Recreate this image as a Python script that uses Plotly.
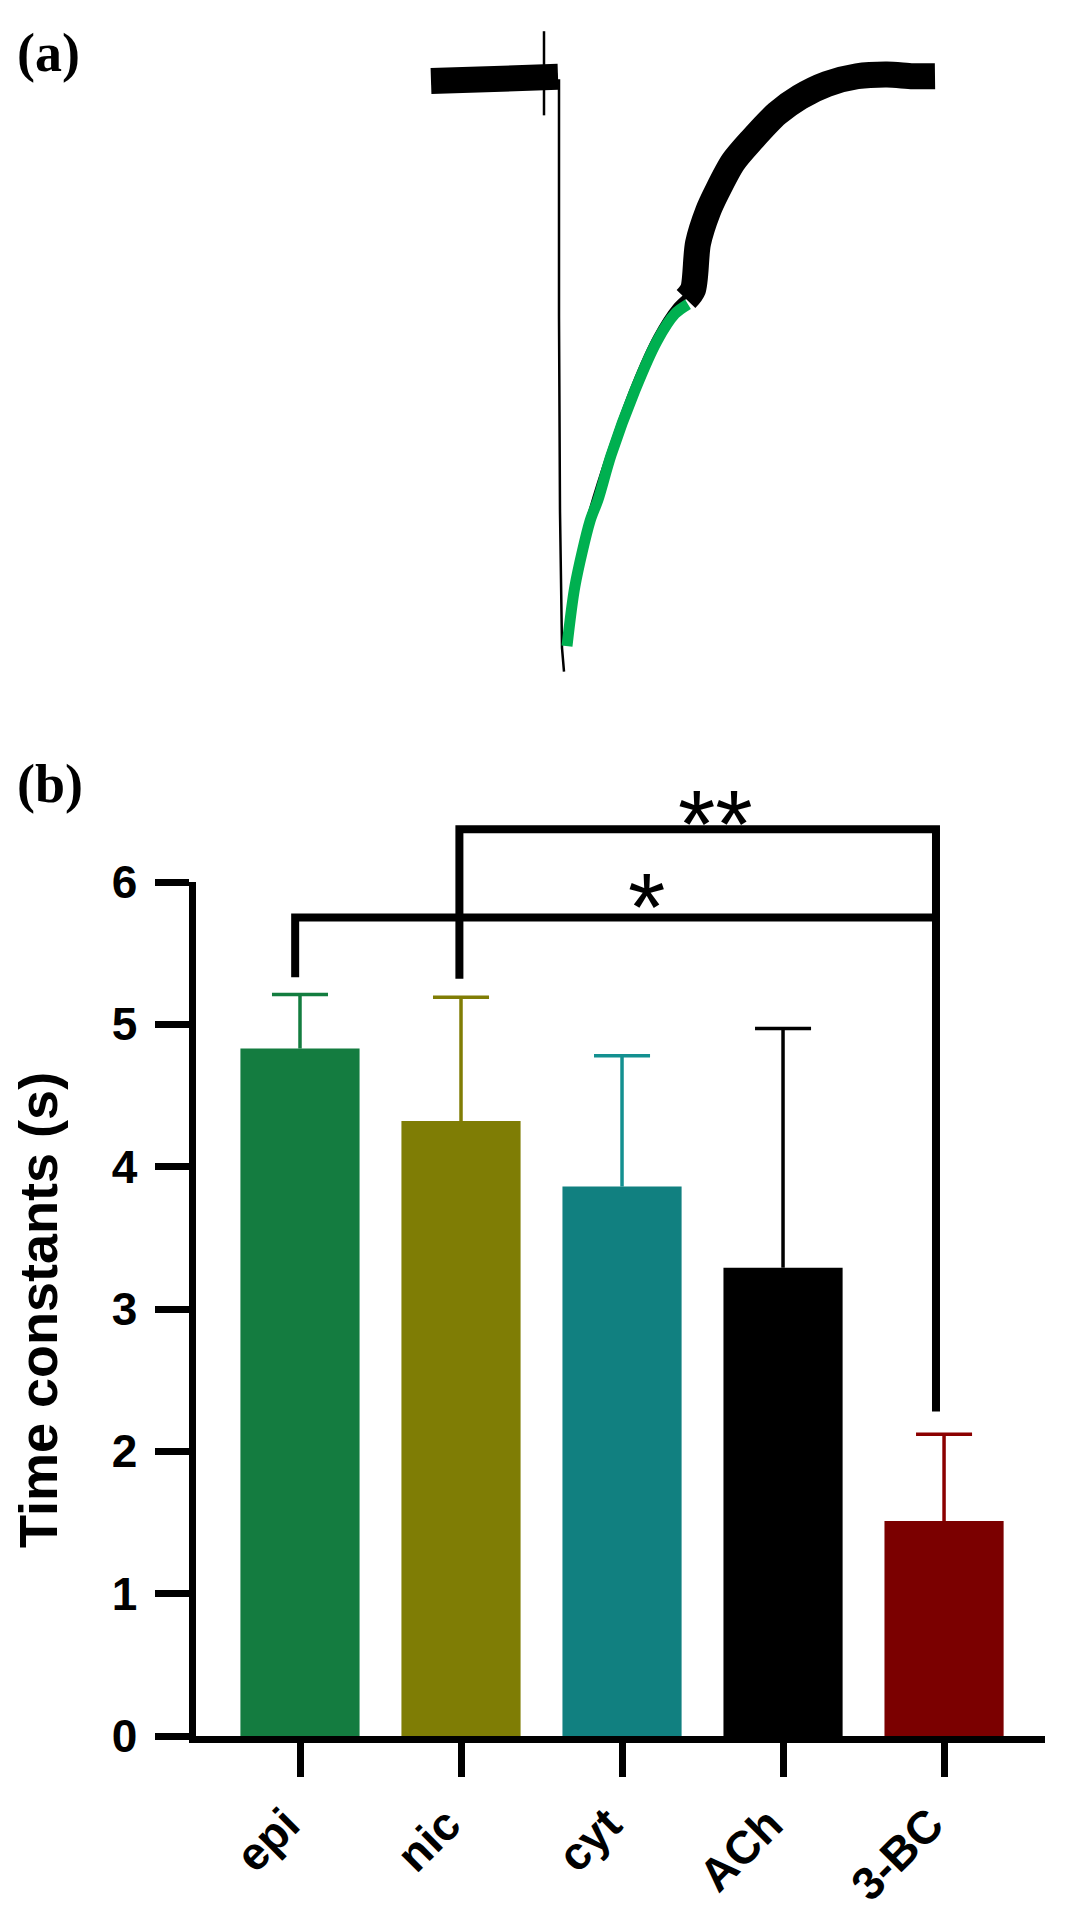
import plotly.graph_objects as go

# ---------------- data: panel (b) ----------------
categories = ["epi", "nic", "cyt", "ACh", "3-BC"]
means = [4.83, 4.32, 3.86, 3.29, 1.51]
sem = [0.38, 0.87, 0.92, 1.68, 0.61]
bar_colors = ["#147c40", "#7f7d05", "#118080", "#000000", "#7b0000"]
err_colors = ["#137d3f", "#807d05", "#139090", "#000000", "#8b0000"]
y_ticks = [0, 1, 2, 3, 4, 5, 6]
y_title = "Time constants (s)"

# significance brackets (x in category index, y in seconds)
brk1_x = [-0.03, -0.03, 3.95, 3.95]
brk1_y = [5.33, 5.75, 5.75, 2.28]
brk2_x = [0.99, 0.99, 3.95, 3.95]
brk2_y = [5.32, 6.37, 6.37, 5.75]
star1 = (2.15, 5.83, "*")
star2 = (2.58, 6.41, "**")

# ---------------- data: panel (a) trace (time s, normalized current) -------------
base_t = [0.0, 0.6, 1.2, 1.8, 2.3, 2.54]
base_i = [-0.003, -0.002, 0.002, 0.005, 0.005, 0.004]
spike_t = [2.26, 2.26]
spike_i = [0.081, -0.061]
drop_t = [2.56, 2.56, 2.58, 2.62, 2.66]
drop_i = [0.0, -0.40, -0.73, -0.96, -1.00]
under_t = [2.70, 2.86, 3.16, 3.58, 4.06, 4.50, 4.88, 5.14]
under_i = [-0.95, -0.85, -0.74, -0.627, -0.516, -0.434, -0.384, -0.363]
rec_t = [5.10, 5.24, 5.34, 5.54, 5.72, 6.04, 6.42, 6.92, 7.38, 7.92, 8.52, 9.12, 9.64, 10.08]
rec_i = [-0.371, -0.355, -0.277, -0.223, -0.190, -0.140, -0.102, -0.058, -0.030, -0.008, 0.005, 0.008, 0.005, 0.005]
fit_t = [2.72, 2.88, 3.18, 3.34, 3.60, 4.08, 4.52, 4.88, 5.14]
fit_i = [-0.957, -0.855, -0.746, -0.710, -0.635, -0.525, -0.442, -0.396, -0.380]

W, H = 1067, 1920
OFF = 8  # page margin compensation
FONT = "Liberation Sans"

fig = go.Figure()

# ---- panel (a) ----
def tr(t, i, w, color="black", shape="linear"):
    fig.add_trace(go.Scatter(x=t, y=i, mode="lines", xaxis="x2", yaxis="y2",
                             line=dict(color=color, width=w, shape=shape, smoothing=0.8),
                             hoverinfo="skip", showlegend=False))

tr(base_t, base_i, 26)
tr(spike_t, spike_i, 2.5)
tr(drop_t, drop_i, 2.5)
tr(under_t, under_i, 5, shape="spline")
tr(rec_t, rec_i, 26, shape="spline")
tr(fit_t, fit_i, 11, "#00b050", shape="spline")

# ---- panel (b) bars ----
xs = list(range(len(categories)))
fig.add_trace(go.Bar(
    x=xs, y=means, width=0.74,
    marker=dict(color=bar_colors, line=dict(width=0)),
    xaxis="x", yaxis="y", showlegend=False, hoverinfo="skip"))

# upward-only error bars (stem + cap) drawn through the axes
cap_half = 0.174
for k in xs:
    top = means[k] + sem[k]
    fig.add_trace(go.Scatter(
        x=[xs[k], xs[k], None, xs[k] - cap_half, xs[k] + cap_half],
        y=[means[k], top, None, top, top],
        mode="lines", line=dict(color=err_colors[k], width=3.5),
        xaxis="x", yaxis="y", showlegend=False, hoverinfo="skip"))

for bx, by in [(brk1_x, brk1_y), (brk2_x, brk2_y)]:
    fig.add_trace(go.Scatter(x=bx, y=by, mode="lines", xaxis="x", yaxis="y3",
                             line=dict(color="black", width=8), hoverinfo="skip",
                             showlegend=False))

ann = []
for sx, sy, st in [star1, star2]:
    ann.append(dict(x=sx, y=sy, xref="x", yref="y3", text=st, showarrow=False,
                    font=dict(family=FONT, size=96, color="black"),
                    xanchor="center", yanchor="middle"))
ann.append(dict(x=(48 - OFF) / W, y=1 - (53 - OFF) / H, xref="paper", yref="paper",
                text="<b>(a)</b>", showarrow=False,
                font=dict(family="Liberation Serif", size=54, color="black"),
                xanchor="center", yanchor="middle"))
ann.append(dict(x=(50 - OFF) / W, y=1 - (784 - OFF) / H, xref="paper", yref="paper",
                text="<b>(b)</b>", showarrow=False,
                font=dict(family="Liberation Serif", size=54, color="black"),
                xanchor="center", yanchor="middle"))
ann.append(dict(x=(38 - OFF) / W, y=1 - (1310 - OFF) / H, xref="paper", yref="paper",
                text=y_title, textangle=-90, showarrow=False,
                font=dict(family=FONT, size=54, color="black", weight="bold"),
                xanchor="center", yanchor="middle"))

plot_left, plot_right = 195.5 - OFF, 1045 - OFF
plot_top, plot_bottom = 882 - OFF, 1736 - OFF
px_per_unit = (plot_bottom - plot_top) / 6.0
y3_top_px = 740 - OFF
y3_max = (plot_bottom - y3_top_px) / px_per_unit

fig.update_layout(
    width=W, height=H,
    margin=dict(l=0, r=0, t=0, b=0, autoexpand=False),
    paper_bgcolor="white", plot_bgcolor="rgba(0,0,0,0)",
    annotations=ann,
    xaxis=dict(domain=[plot_left / W, plot_right / W], range=[-0.649, 4.627],
               tickmode="array", tickvals=xs, ticktext=categories,
               showline=True, linewidth=7, linecolor="black",
               ticks="outside", ticklen=34, tickwidth=7, tickcolor="black",
               tickangle=-45, showgrid=False, zeroline=False, automargin=False,
               ticklabelstandoff=2, ticklabelshift=-14,
               tickfont=dict(family=FONT, size=46, color="black", weight="bold"),
               anchor="y", fixedrange=True),
    yaxis=dict(domain=[1 - plot_bottom / H, 1 - plot_top / H], range=[0, 6],
               tickmode="array", tickvals=y_ticks,
               showline=True, linewidth=7, linecolor="black",
               ticks="outside", ticklen=34, tickwidth=7, tickcolor="black",
               showgrid=False, zeroline=False, automargin=False,
               ticklabelstandoff=8,
               tickfont=dict(family=FONT, size=46, color="black", weight="bold"),
               anchor="x", fixedrange=True),
    yaxis3=dict(domain=[1 - plot_bottom / H, 1 - y3_top_px / H], range=[0, y3_max],
                visible=False, anchor="x", fixedrange=True, automargin=False),
    xaxis2=dict(domain=[(400 - OFF) / W, (960 - OFF) / W], range=[-0.62, 10.58],
                visible=False, anchor="y2", fixedrange=True, automargin=False),
    yaxis2=dict(domain=[1 - (700 - OFF) / H, 1.0],
                range=[-1.048, 0.107 + OFF / 606.0], visible=False,
                anchor="x2", fixedrange=True, automargin=False),
)

fig.write_html("out.html")
